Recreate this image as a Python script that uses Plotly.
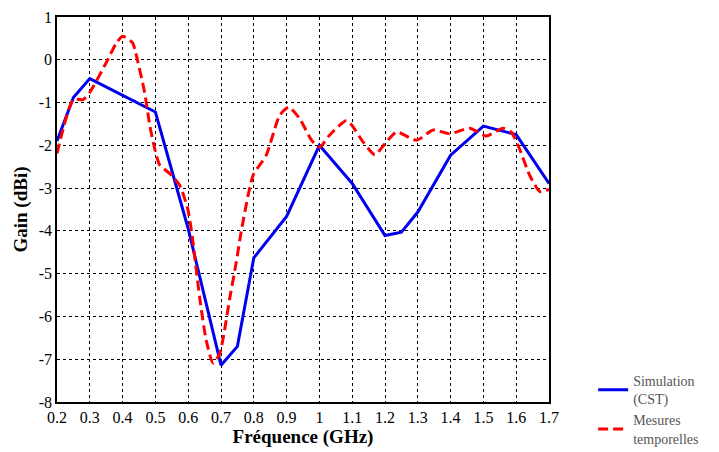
import plotly.graph_objects as go

# Simulation (CST)
sim_freq = [0.2, 0.25, 0.3, 0.5, 0.6, 0.7, 0.75, 0.8, 0.9, 1.0, 1.1, 1.2, 1.25, 1.3, 1.4, 1.5, 1.6, 1.7]
sim_gain = [-1.9, -0.88, -0.44, -1.22, -3.95, -7.14, -6.7, -4.63, -3.66, -2.0, -2.89, -4.11, -4.03, -3.56, -2.23, -1.55, -1.75, -2.89]

# Mesures temporelles
mes_freq = [0.2, 0.25, 0.28, 0.3, 0.35, 0.38, 0.4, 0.43, 0.44, 0.467, 0.483, 0.498, 0.513,
            0.544, 0.574, 0.598, 0.61, 0.635, 0.655, 0.676, 0.696, 0.727, 0.747, 0.762,
            0.798, 0.838, 0.879, 0.907, 0.94, 0.976, 1.001, 1.03, 1.082, 1.10, 1.133,
            1.169, 1.2, 1.235, 1.296, 1.347, 1.397, 1.458, 1.509, 1.56, 1.585, 1.61,
            1.641, 1.672, 1.70]
mes_gain = [-2.19, -0.93, -0.93, -0.76, -0.07, 0.38, 0.55, 0.4, 0.16, -0.76, -1.54, -2.08, -2.46,
            -2.66, -2.93, -3.47, -4.0, -5.56, -6.56, -7.09, -6.87, -5.56, -4.71, -4.0,
            -2.70, -2.23, -1.30, -1.11, -1.38, -1.88, -2.04, -1.77, -1.42, -1.54, -1.92,
            -2.22, -1.96, -1.69, -1.88, -1.64, -1.73, -1.60, -1.78, -1.60, -1.69, -2.08,
            -2.70, -3.08, -3.03]

x_ticks = [0.2, 0.3, 0.4, 0.5, 0.6, 0.7, 0.8, 0.9, 1.0, 1.1, 1.2, 1.3, 1.4, 1.5, 1.6, 1.7]
x_labels = ["0.2", "0.3", "0.4", "0.5", "0.6", "0.7", "0.8", "0.9", "1", "1.1", "1.2", "1.3", "1.4", "1.5", "1.6", "1.7"]
y_ticks = [1, 0, -1, -2, -3, -4, -5, -6, -7, -8]
y_labels = ["1", "0", "-1", "-2", "-3", "-4", "-5", "-6", "-7", "-8"]

serif = "Liberation Serif"

fig = go.Figure()
fig.add_trace(go.Scatter(x=sim_freq, y=sim_gain, mode="lines", name="Simulation<br>(CST)",
                         line=dict(color="#0000ee", width=3)))
fig.add_trace(go.Scatter(x=mes_freq, y=mes_gain, mode="lines", name="Mesures<br>temporelles",
                         line=dict(color="#ff0000", width=3, dash="10px,5px", shape="spline", smoothing=0.6)))

axis_common = dict(showline=True, linecolor="black", linewidth=1.5, mirror=True,
                   showgrid=True, gridcolor="black", gridwidth=1, griddash="3px,3px",
                   zeroline=False, ticks="", automargin=False, ticklabeloverflow="allow",
                   tickfont=dict(family=serif, size=16, color="black"))

fig.update_xaxes(range=[0.2, 1.7], tickvals=x_ticks, ticktext=x_labels,
                 title=dict(text="<b>Fréquence (GHz)</b>", font=dict(family=serif, size=19, color="black"), standoff=4),
                 **axis_common)
fig.update_yaxes(range=[-8, 1], tickvals=y_ticks, ticktext=y_labels,
                 title=dict(text="<b>Gain (dBi)</b>", font=dict(family=serif, size=19, color="black"), standoff=6),
                 **axis_common)

# page body adds an 8px offset, so the figure is sized to fit the window
fig.update_layout(
    width=711, height=444,
    margin=dict(l=49, r=170, t=9, b=50),
    plot_bgcolor="white", paper_bgcolor="white",
    font=dict(family=serif),
    legend=dict(xref="container", yref="container", x=0.823, y=0.196, xanchor="left", yanchor="top",
                font=dict(family=serif, size=14, color="#555555"),
                bgcolor="rgba(0,0,0,0)", tracegroupgap=2),
)

fig.write_html("out.html")
